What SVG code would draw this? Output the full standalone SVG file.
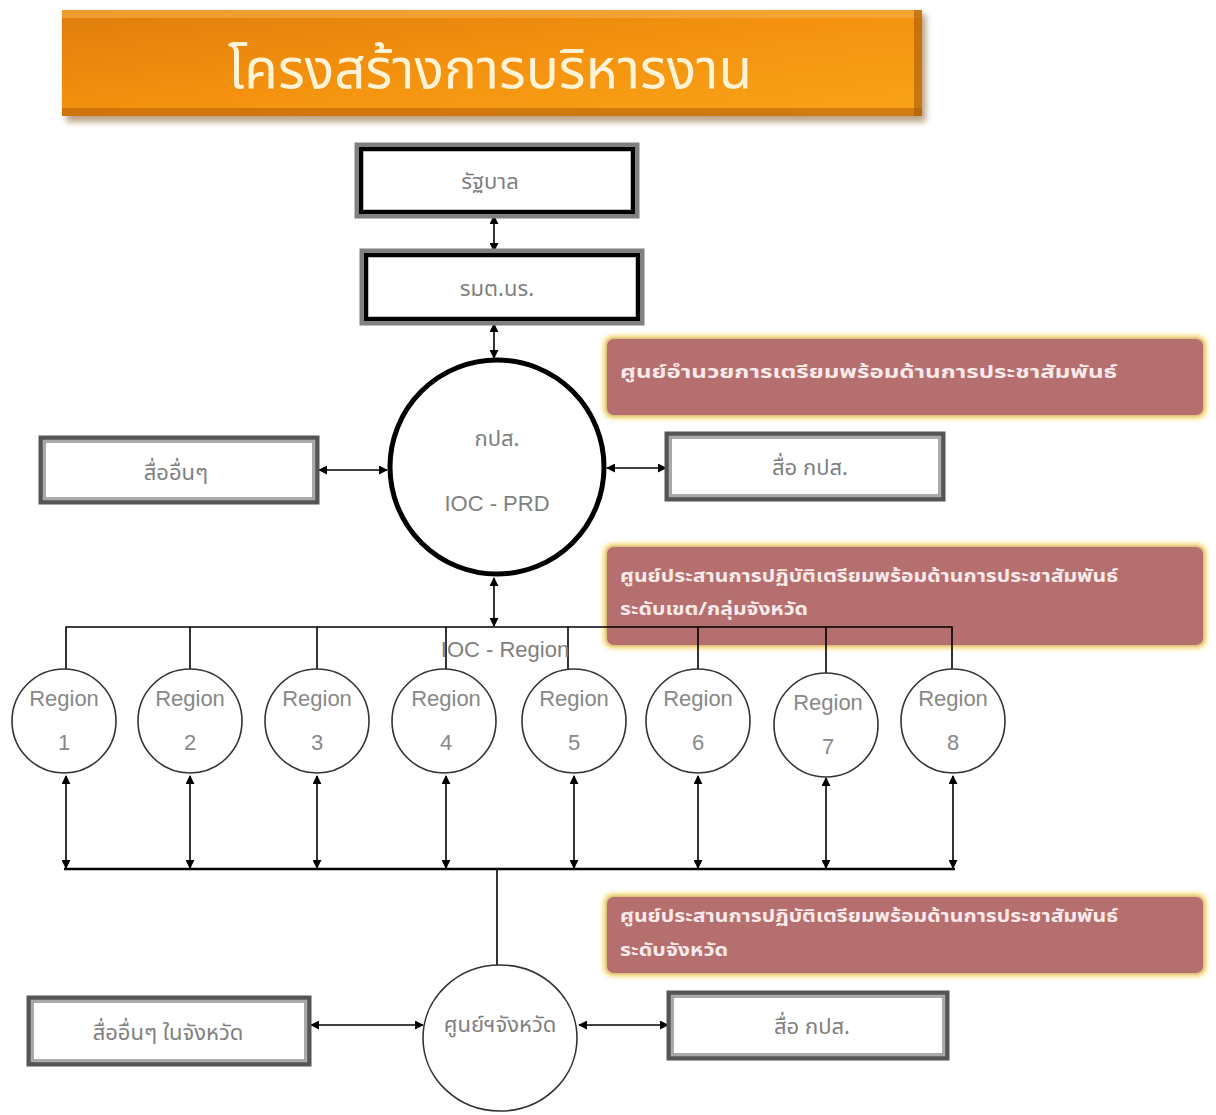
<svg xmlns="http://www.w3.org/2000/svg" width="1216" height="1115" viewBox="0 0 1216 1115">
<defs>
<linearGradient id="og" x1="0" y1="0" x2="1" y2="1">
<stop offset="0" stop-color="#e07d0c"/>
<stop offset="0.5" stop-color="#f4920f"/>
<stop offset="1" stop-color="#f9a419"/>
</linearGradient>
<filter id="glow" x="-5%" y="-20%" width="110%" height="140%">
<feGaussianBlur stdDeviation="2"/>
</filter>
<filter id="shadow" x="-5%" y="-10%" width="110%" height="130%">
<feGaussianBlur stdDeviation="3"/>
</filter>
<marker id="ah" viewBox="0 0 10 10" refX="9" refY="5" markerWidth="9" markerHeight="9" markerUnits="userSpaceOnUse" orient="auto-start-reverse">
<path d="M0,0 L10,5 L0,10 z" fill="#000"/>
</marker>
<style>
.th{font-family:"Noto Sans Thai","Noto Sans","DejaVu Sans",sans-serif}
.lbl{fill:#7f7f7f;font-size:22px;text-anchor:middle}
.ban{fill:#fbeaea;font-size:18px;font-weight:bold}
.outer{fill:#fff;stroke:#808080;stroke-width:9}
.inner{fill:none;stroke:#000;stroke-width:4}
.mouter{fill:#fff;stroke:#555;stroke-width:7}
.minner{fill:none;stroke:#aaa;stroke-width:2.5}
.banner{fill:#b56f6f;stroke:#f7e27a;stroke-width:4}
.line{fill:none;stroke:#000;stroke-width:1.6}
.arr{fill:none;stroke:#000;stroke-width:1.6;marker-start:url(#ah);marker-end:url(#ah)}
.reg{fill:#fff;stroke:#333;stroke-width:1.6}
.rtx{fill:#888;font-size:22px;text-anchor:middle;font-family:"Liberation Sans",sans-serif}
</style>
</defs>
<rect width="1216" height="1115" fill="#fff"/>

<g id="title">
<rect x="66" y="14" width="860" height="108" fill="#7a4a10" opacity="0.5" filter="url(#shadow)"/>
<rect x="62" y="10" width="860" height="106" fill="url(#og)"/>
<rect x="62" y="10" width="860" height="8" fill="#f6b04a" opacity="0.6"/>
<rect x="62" y="108" width="860" height="8" fill="#b8620a" opacity="0.6"/>
<rect x="914" y="10" width="8" height="106" fill="#a85a08" opacity="0.6"/>
<text x="490" y="88" class="th" font-size="56" fill="#fff3d6" text-anchor="middle" textLength="524" lengthAdjust="spacingAndGlyphs">โครงสร้างการบริหารงาน</text>
</g>

<g id="banner1">
<rect x="605" y="337" width="600" height="80" rx="8" class="banner" filter="url(#glow)"/>
<rect x="607" y="339" width="596" height="76" rx="7" fill="#b56f6f"/>
<text x="620" y="378" class="th ban" textLength="497" lengthAdjust="spacingAndGlyphs">ศูนย์อำนวยการเตรียมพร้อมด้านการประชาสัมพันธ์</text>
</g>

<g id="banner2">
<rect x="605" y="545" width="600" height="102" rx="8" class="banner" filter="url(#glow)"/>
<rect x="607" y="547" width="596" height="98" rx="7" fill="#b56f6f"/>
<text x="620" y="582" class="th ban" textLength="498" lengthAdjust="spacingAndGlyphs">ศูนย์ประสานการปฏิบัติเตรียมพร้อมด้านการประชาสัมพันธ์</text>
<text x="620" y="615" class="th ban" textLength="188" lengthAdjust="spacingAndGlyphs">ระดับเขต/กลุ่มจังหวัด</text>
</g>

<g id="banner3">
<rect x="605" y="895" width="600" height="80" rx="8" class="banner" filter="url(#glow)"/>
<rect x="607" y="897" width="596" height="76" rx="7" fill="#b56f6f"/>
<text x="620" y="922" class="th ban" textLength="498" lengthAdjust="spacingAndGlyphs">ศูนย์ประสานการปฏิบัติเตรียมพร้อมด้านการประชาสัมพันธ์</text>
<text x="620" y="956" class="th ban" textLength="108" lengthAdjust="spacingAndGlyphs">ระดับจังหวัด</text>
</g>

<g id="connectors">
<line x1="494" y1="216" x2="494" y2="251" class="arr"/>
<line x1="494" y1="324" x2="494" y2="358" class="arr"/>
<line x1="319" y1="470" x2="387" y2="470" class="arr"/>
<line x1="607" y1="468" x2="666" y2="468" class="arr"/>
<line x1="494" y1="578" x2="494" y2="626" class="arr"/>
<polyline points="66,670 66,627 952,627 952,670" class="line"/>
<line x1="190" y1="627" x2="190" y2="670" class="line"/>
<line x1="317" y1="627" x2="317" y2="670" class="line"/>
<line x1="446" y1="627" x2="446" y2="670" class="line"/>
<line x1="568" y1="627" x2="568" y2="670" class="line"/>
<line x1="698" y1="627" x2="698" y2="670" class="line"/>
<line x1="826" y1="627" x2="826" y2="674" class="line"/>
<line x1="64" y1="869" x2="955" y2="869" stroke="#000" stroke-width="2.5"/>
<line x1="66" y1="776" x2="66" y2="868" class="arr"/>
<line x1="190" y1="776" x2="190" y2="868" class="arr"/>
<line x1="317" y1="776" x2="317" y2="868" class="arr"/>
<line x1="446" y1="776" x2="446" y2="868" class="arr"/>
<line x1="574" y1="776" x2="574" y2="868" class="arr"/>
<line x1="698" y1="776" x2="698" y2="868" class="arr"/>
<line x1="826" y1="778" x2="826" y2="868" class="arr"/>
<line x1="953" y1="776" x2="953" y2="868" class="arr"/>
<line x1="497" y1="869" x2="497" y2="965" class="line"/>
<line x1="311" y1="1025" x2="423" y2="1025" class="arr"/>
<line x1="579" y1="1025" x2="668" y2="1025" class="arr"/>
</g>

<g id="rataban">
<rect x="359" y="147" width="276" height="67" class="outer"/>
<rect x="361" y="149" width="272" height="63" class="inner"/>
<text x="490" y="189" class="th lbl">รัฐบาล</text>
</g>

<g id="rmt">
<rect x="364" y="253" width="276" height="68" class="outer"/>
<rect x="366" y="255" width="272" height="64" class="inner"/>
<text x="497" y="296" class="th lbl">รมต.นร.</text>
</g>

<g id="kps">
<circle cx="497" cy="467" r="107" fill="#fff" stroke="#000" stroke-width="5"/>
<text x="497" y="446" class="th lbl">กปส.</text>
<text x="497" y="511" class="lbl" font-family="Liberation Sans,sans-serif">IOC - PRD</text>
</g>

<g id="media-other">
<rect x="42" y="439" width="274" height="62" class="mouter"/>
<rect x="44" y="441" width="270" height="58" class="minner"/>
<text x="176" y="480" class="th lbl">สื่ออื่นๆ</text>
</g>

<g id="media-kps">
<rect x="668" y="435" width="274" height="63" class="mouter"/>
<rect x="670" y="437" width="270" height="59" class="minner"/>
<text x="810" y="475" class="th lbl">สื่อ กปส.</text>
</g>

<text x="505" y="657" class="lbl" font-family="Liberation Sans,sans-serif" fill="#999">IOC - Region</text>

<g id="region1"><circle cx="64" cy="721" r="52" class="reg"/><text x="64" y="706" class="rtx">Region</text><text x="64" y="750" class="rtx">1</text></g>
<g id="region2"><circle cx="190" cy="721" r="52" class="reg"/><text x="190" y="706" class="rtx">Region</text><text x="190" y="750" class="rtx">2</text></g>
<g id="region3"><circle cx="317" cy="721" r="52" class="reg"/><text x="317" y="706" class="rtx">Region</text><text x="317" y="750" class="rtx">3</text></g>
<g id="region4"><circle cx="444" cy="721" r="52" class="reg"/><text x="446" y="706" class="rtx">Region</text><text x="446" y="750" class="rtx">4</text></g>
<g id="region5"><circle cx="574" cy="721" r="52" class="reg"/><text x="574" y="706" class="rtx">Region</text><text x="574" y="750" class="rtx">5</text></g>
<g id="region6"><circle cx="698" cy="721" r="52" class="reg"/><text x="698" y="706" class="rtx">Region</text><text x="698" y="750" class="rtx">6</text></g>
<g id="region7"><circle cx="826" cy="725" r="52" class="reg"/><text x="828" y="710" class="rtx">Region</text><text x="828" y="754" class="rtx">7</text></g>
<g id="region8"><circle cx="953" cy="721" r="52" class="reg"/><text x="953" y="706" class="rtx">Region</text><text x="953" y="750" class="rtx">8</text></g>

<g id="province-center">
<ellipse cx="500" cy="1038" rx="77" ry="73" class="reg"/>
<text x="500" y="1032" class="th lbl">ศูนย์ฯจังหวัด</text>
</g>

<g id="media-province">
<rect x="30" y="999" width="278" height="64" class="mouter"/>
<rect x="32" y="1001" width="274" height="60" class="minner"/>
<text x="168" y="1040" class="th lbl">สื่ออื่นๆ ในจังหวัด</text>
</g>

<g id="media-kps2">
<rect x="670" y="994" width="276" height="63" class="mouter"/>
<rect x="672" y="996" width="272" height="59" class="minner"/>
<text x="812" y="1034" class="th lbl">สื่อ กปส.</text>
</g>
</svg>
